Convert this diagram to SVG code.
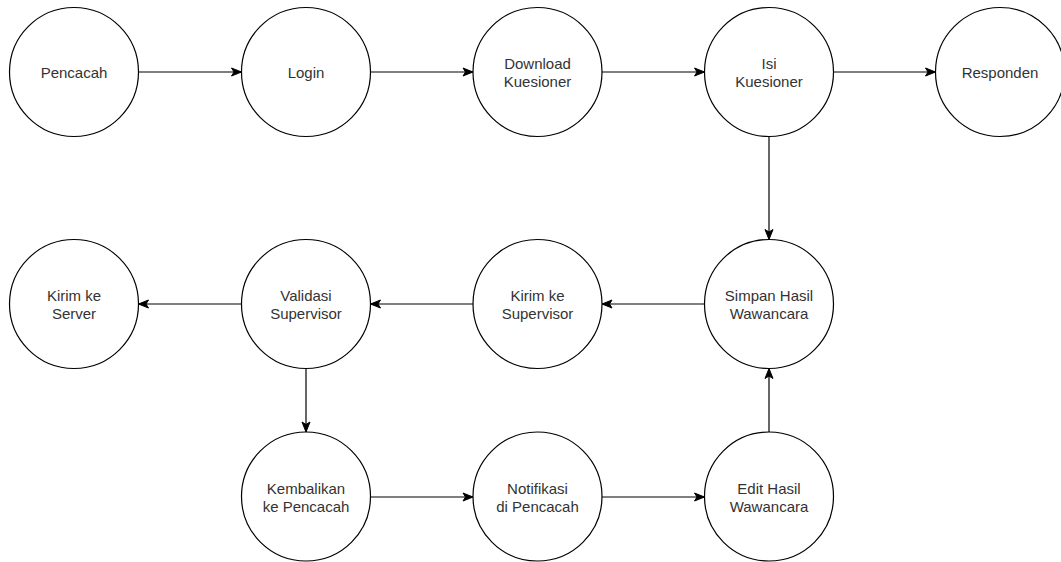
<svg xmlns="http://www.w3.org/2000/svg" width="1061" height="562" viewBox="0 0 1061 562">
  <style>
    .node circle { fill: #ffffff; stroke: #000000; stroke-width: 1.2; }
    .node text { font-family: "Liberation Sans", Arial, Helvetica, sans-serif; font-size: 15px; fill: #333333; text-anchor: middle; }
    .edges line { stroke: #000000; stroke-width: 1.2; fill: none; marker-end: url(#arrow); }
  </style>
  <defs>
    <marker id="arrow" markerUnits="userSpaceOnUse" markerWidth="12" markerHeight="10" viewBox="0 0 12 10" refX="11" refY="5" orient="auto">
      <path d="M1,1 L11,5 L1,9 L3.5,5 Z" fill="#000000" stroke="#000000" stroke-width="1"/>
    </marker>
  </defs>
  <rect width="1061" height="562" fill="#ffffff"/>

  <!-- connectors -->
  <g class="edges">
    <line x1="138.5" y1="72" x2="241.5" y2="72"/>
    <line x1="370.5" y1="72" x2="473" y2="72"/>
    <line x1="602" y1="72" x2="704.5" y2="72"/>
    <line x1="833.5" y1="72" x2="935.5" y2="72"/>
    <line x1="769" y1="136.5" x2="769" y2="239.5"/>
    <line x1="704.5" y1="304" x2="602" y2="304"/>
    <line x1="473" y1="304" x2="370.5" y2="304"/>
    <line x1="241.5" y1="304" x2="138.5" y2="304"/>
    <line x1="306" y1="368.5" x2="306" y2="432"/>
    <line x1="370.5" y1="497" x2="473" y2="497"/>
    <line x1="602" y1="497" x2="704.5" y2="497"/>
    <line x1="769" y1="432" x2="769" y2="368.5"/>
  </g>

  <!-- row 1 -->
  <g id="pencacah" class="node">
    <circle cx="74" cy="72" r="64.5"/>
    <text x="74" y="77.5">Pencacah</text>
  </g>
  <g id="login" class="node">
    <circle cx="306" cy="72" r="64.5"/>
    <text x="306" y="77.5">Login</text>
  </g>
  <g id="download-kuesioner" class="node">
    <circle cx="537.5" cy="72" r="64.5"/>
    <text x="537.5" y="69">Download</text>
    <text x="537.5" y="87">Kuesioner</text>
  </g>
  <g id="isi-kuesioner" class="node">
    <circle cx="769" cy="72" r="64.5"/>
    <text x="769" y="69">Isi</text>
    <text x="769" y="87">Kuesioner</text>
  </g>
  <g id="responden" class="node">
    <circle cx="1000" cy="72" r="64.5"/>
    <text x="1000" y="77.5">Responden</text>
  </g>

  <!-- row 2 -->
  <g id="kirim-ke-server" class="node">
    <circle cx="74" cy="304" r="64.5"/>
    <text x="74" y="301">Kirim ke</text>
    <text x="74" y="319">Server</text>
  </g>
  <g id="validasi-supervisor" class="node">
    <circle cx="306" cy="304" r="64.5"/>
    <text x="306" y="301">Validasi</text>
    <text x="306" y="319">Supervisor</text>
  </g>
  <g id="kirim-ke-supervisor" class="node">
    <circle cx="537.5" cy="304" r="64.5"/>
    <text x="537.5" y="301">Kirim ke</text>
    <text x="537.5" y="319">Supervisor</text>
  </g>
  <g id="simpan-hasil-wawancara" class="node">
    <circle cx="769" cy="304" r="64.5"/>
    <text x="769" y="301">Simpan Hasil</text>
    <text x="769" y="319">Wawancara</text>
  </g>

  <!-- row 3 -->
  <g id="kembalikan-ke-pencacah" class="node">
    <circle cx="306" cy="496.5" r="64.5"/>
    <text x="306" y="494">Kembalikan</text>
    <text x="306" y="512">ke Pencacah</text>
  </g>
  <g id="notifikasi-di-pencacah" class="node">
    <circle cx="537.5" cy="496.5" r="64.5"/>
    <text x="537.5" y="494">Notifikasi</text>
    <text x="537.5" y="512">di Pencacah</text>
  </g>
  <g id="edit-hasil-wawancara" class="node">
    <circle cx="769" cy="496.5" r="64.5"/>
    <text x="769" y="494">Edit Hasil</text>
    <text x="769" y="512">Wawancara</text>
  </g>
</svg>
